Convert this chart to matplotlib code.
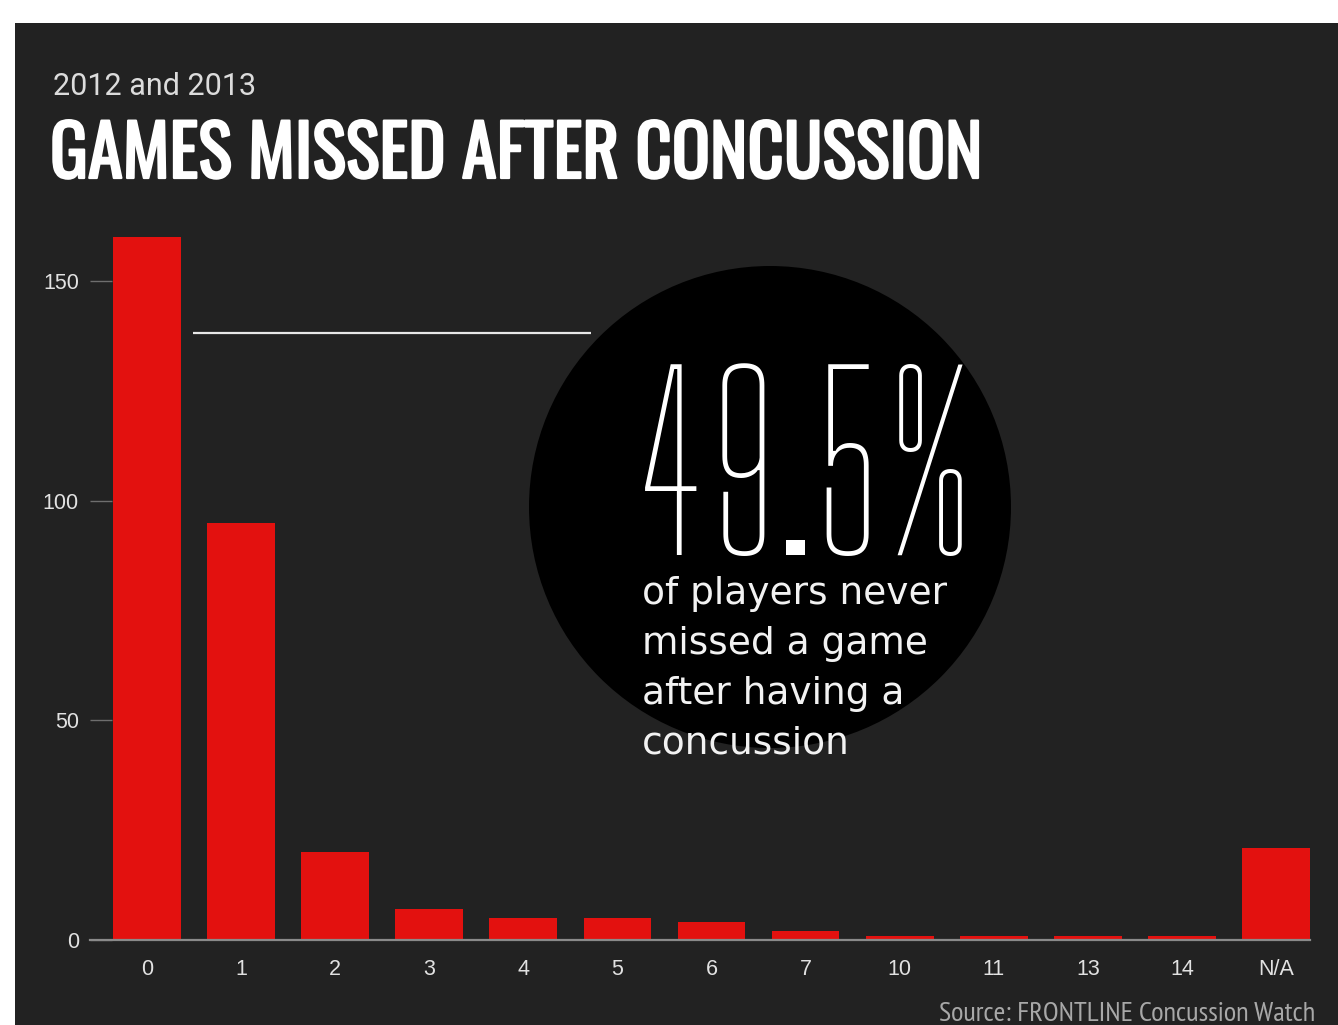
import matplotlib
matplotlib.use("Agg")
import matplotlib.pyplot as plt
import matplotlib.patheffects as pe
from matplotlib.patches import Circle, Rectangle

# Games missed after a concussion (2012 and 2013 seasons)
games = ['0', '1', '2', '3', '4', '5', '6', '7', '10', '11', '13', '14', 'N/A']
players = [160, 95, 20, 7, 5, 5, 4, 2, 1, 1, 1, 1, 21]
y_ticks = [0, 50, 100, 150]

subtitle = "2012 and 2013"
title = "GAMES MISSED AFTER CONCUSSION"
blurb = ["of players never", "missed a game", "after having a", "concussion"]
source = "Source: FRONTLINE Concussion Watch"

share = 100 * players[0] / sum(players)

BG = '#222222'
RED = '#e3110f'
W, H = 1338, 1025

fig = plt.figure(figsize=(W / 100, H / 100), dpi=100, facecolor='white')
fig.patches.append(Rectangle((15 / W, 0), 1 - 15 / W, 1 - 23 / H, transform=fig.transFigure,
                             facecolor=BG, edgecolor='none', zorder=-10))

ax = fig.add_axes([90 / W, 85 / H, 1220 / W, 725 / H])
ax.set_facecolor('none')

x = range(len(games))
ax.bar(x, players, width=0.72, color=RED, zorder=3)
ax.set_xlim(-0.606, 12.361)
ax.set_ylim(0, 165)

ax.set_xticks(list(x))
ax.set_xticklabels(games)
ax.set_yticks(y_ticks)
for s in ['top', 'right', 'left']:
    ax.spines[s].set_visible(False)
ax.spines['bottom'].set_color('#8a8a8a')
ax.spines['bottom'].set_linewidth(1.6)
ax.spines['bottom'].set_zorder(4)
ax.tick_params(axis='x', length=0, pad=14, labelsize=15.5, labelcolor='#e2e2e2')
ax.tick_params(axis='y', direction='in', length=16, width=1, color='#6e6e6e', pad=8,
               labelsize=15.5, labelcolor='#e2e2e2')
for lab in ax.get_xticklabels() + ax.get_yticklabels():
    lab.set_family(['Liberation Sans', 'DejaVu Sans'])

# pointer from the first bar to the callout
ax.plot([0.49, 4.72], [138.2, 138.2], color='#e8e8e8', lw=1.6, solid_capstyle='butt',
        zorder=3, clip_on=False)

# black callout disc
ax.add_patch(Circle((7.70, (H - 507) / 100), 2.41, transform=fig.dpi_scale_trans,
                    facecolor='black', edgecolor='none', zorder=1, clip_on=False))

fig.text(53 / W, 1 - 95 / H, subtitle, fontsize=22, color='#dcdcdc',
         family=['Roboto', 'DejaVu Sans'], va='baseline', ha='left')
fig.text(50 / W, 1 - 178 / H, title, fontsize=51, color='white',
         family=['Oswald', 'Liberation Sans Narrow', 'DejaVu Sans'], va='baseline', ha='left',
         path_effects=[pe.withStroke(linewidth=1.6, foreground='white')])

fig.text(638 / W, 1 - 555 / H, f"{share:.1f}%", fontsize=171, color='white',
         family=['Big Shoulders Display', 'Liberation Sans Narrow', 'DejaVu Sans'],
         va='baseline', ha='left')
for i, line in enumerate(blurb):
    fig.text(642 / W, 1 - (604 + 50 * i) / H, line, fontsize=27, color='#f2f2f2',
             family=['DejaVu Sans'], va='baseline', ha='left')

fig.text(1315 / W, 1 - 1021 / H, source, fontsize=20.5, color='#a8a8a8',
         family=['PT Sans Narrow', 'Liberation Sans Narrow', 'DejaVu Sans'], va='baseline', ha='right')

fig.savefig("out.png", dpi=100, facecolor=fig.get_facecolor())
